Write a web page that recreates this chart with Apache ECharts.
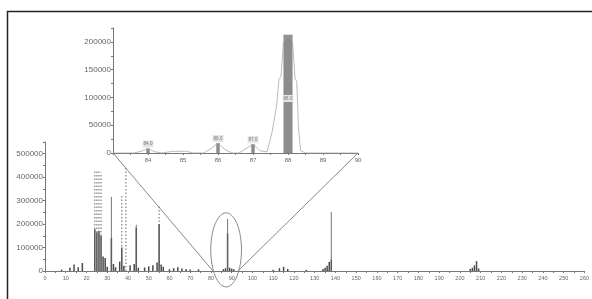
<!DOCTYPE html>
<html>
<head>
<meta charset="utf-8">
<script src="https://cdn.jsdelivr.net/npm/echarts@6/dist/echarts.min.js"></script>
<style>
html, body { margin: 0; padding: 0; background: #fff; }
#chart { width: 592px; height: 299px; }
</style>
</head>
<body>
<div id="chart"></div>
<script>
// main spectrum, dark centroid bars
const mainMz = [8, 12, 14, 16, 18, 24, 25, 26, 27, 28, 29, 30, 32, 33, 34, 36, 37, 38, 41, 43, 44, 45, 48, 50, 52, 54, 55, 56, 57, 60, 62, 64, 66, 68, 70, 74, 86, 87, 88, 89, 90, 91, 110, 113, 115, 117, 126, 134, 135, 136, 137, 138, 205, 206, 207, 208, 209];
const mainInt = [6000, 14000, 28000, 16000, 34000, 178000, 165000, 172000, 150000, 62000, 55000, 18000, 140000, 30000, 16000, 40000, 100000, 22000, 24000, 30000, 185000, 14000, 15000, 20000, 24000, 36000, 200000, 28000, 18000, 8000, 12000, 16000, 11000, 8000, 6000, 7000, 8000, 12000, 160000, 14000, 10000, 7000, 5000, 12000, 18000, 9000, 5000, 9000, 14000, 22000, 38000, 48000, 9000, 14000, 24000, 42000, 11000];
// tall thin sticks (solid)
const lineMz = [32, 44, 88, 138];
const lineInt = [316000, 197000, 222000, 252000];
// tall thin sticks (dotted look)
const dotMz = [24, 25, 26, 27, 37, 39, 55];
const dotInt = [430000, 432000, 425000, 420000, 322000, 440000, 275000];

// inset, profile trace 83-90
const profMz = [83, 83.6, 83.8, 84.0, 84.2, 84.4, 84.7, 85.1, 85.3, 85.6, 85.8, 86.0, 86.2, 86.4, 86.6, 86.8, 87.0, 87.2, 87.4, 87.54, 87.68, 87.74, 87.8, 87.87, 88.0, 88.13, 88.2, 88.25, 88.3, 88.36, 88.5, 90];
const profInt = [0, 0, 3000, 8000, 2000, 0, 3000, 3000, 0, 0, 8000, 18000, 6000, 0, 0, 8000, 16000, 4000, 2000, 36000, 87000, 132000, 138000, 200000, 213000, 200000, 135000, 128000, 45000, 4000, 0, 0];
// inset centroid bars
const insetMz = [84, 86, 87, 88];
const insetInt = [8000, 18000, 16000, 213000];
const insetHalf = [0.05, 0.05, 0.05, 0.13];
const insetTag = ['84.0', '86.0', '87.0', '88.0'];

const labelColor = '#666';
const axisColor = '#777';

function stick(color, width, dash) {
  return function (params, api) {
    const p0 = api.coord([api.value(0), 0]);
    const p1 = api.coord([api.value(0), api.value(1)]);
    return {
      type: 'line',
      shape: { x1: p0[0], y1: p0[1], x2: p1[0], y2: p1[1] },
      style: { stroke: color, lineWidth: width, lineDash: dash }
    };
  };
}

function bar(color, halfPx) {
  return function (params, api) {
    const p0 = api.coord([api.value(0), 0]);
    const p1 = api.coord([api.value(0), api.value(1)]);
    return {
      type: 'rect',
      shape: { x: p0[0] - halfPx, y: p1[1], width: halfPx * 2, height: p0[1] - p1[1] },
      style: { fill: color }
    };
  };
}

function insetBar(params, api) {
  const mz = api.value(0), v = api.value(1), h = api.value(2);
  const a = api.coord([mz - h, 0]);
  const b = api.coord([mz + h, v]);
  const i = params.dataIndex;
  const big = i === 3;
  const t = big ? api.coord([mz, 90000]) : api.coord([mz, v]);
  return {
    type: 'group',
    children: [
      { type: 'rect', shape: { x: a[0], y: b[1], width: b[0] - a[0], height: a[1] - b[1] }, style: { fill: '#8c8c8c' } },
      { type: 'text', x: t[0], y: t[1] - 1,
        style: { text: insetTag[i], fontSize: 4.5, fill: '#777', align: 'center', verticalAlign: 'bottom',
                 backgroundColor: '#e4e4e4', padding: [1, 1] } }
    ]
  };
}

const axisCommon = {
  axisLine: { show: true, lineStyle: { color: axisColor, width: 1 } },
  axisTick: { show: true, length: 2, lineStyle: { color: axisColor } },
  splitLine: { show: false },
};

const option = {
  animation: false,
  grid: [
    { left: 45, top: 142, width: 545, height: 129 },
    { left: 113, top: 28, width: 245, height: 125 }
  ],
  xAxis: [
    Object.assign({}, axisCommon, {
      gridIndex: 0, type: 'value', min: 0, max: 260, interval: 10,
      minorTick: { show: true, splitNumber: 2, length: 2, lineStyle: { color: axisColor } },
      axisLabel: { fontSize: 5.5, color: labelColor, margin: 4, fontFamily: 'Liberation Sans' }
    }),
    Object.assign({}, axisCommon, {
      gridIndex: 1, type: 'value', min: 83, max: 90, interval: 1,
      minorTick: { show: true, splitNumber: 2, length: 2, lineStyle: { color: axisColor } },
      axisLabel: { fontSize: 6, color: labelColor, margin: 4, showMinLabel: false, fontFamily: 'Liberation Sans' }
    })
  ],
  yAxis: [
    Object.assign({}, axisCommon, {
      gridIndex: 0, type: 'value', min: 0, max: 550000, interval: 50000,
      axisLabel: { fontSize: 8, color: labelColor, margin: 2, fontFamily: 'Liberation Sans',
        formatter: v => (v % 100000 === 0 ? String(v) : '') }
    }),
    Object.assign({}, axisCommon, {
      gridIndex: 1, type: 'value', min: 0, max: 225000, interval: 25000,
      axisLabel: { fontSize: 8, color: labelColor, margin: 2, fontFamily: 'Liberation Sans',
        formatter: v => (v % 50000 === 0 ? String(v) : '') }
    })
  ],
  series: [
    { type: 'custom', xAxisIndex: 0, yAxisIndex: 0, renderItem: bar('#4a4a4a', 0.75),
      data: mainMz.map((m, i) => [m, mainInt[i]]) },
    { type: 'custom', xAxisIndex: 0, yAxisIndex: 0, renderItem: stick('#666', 0.9, null),
      data: lineMz.map((m, i) => [m, lineInt[i]]) },
    { type: 'custom', xAxisIndex: 0, yAxisIndex: 0, renderItem: stick('#777', 1.1, [1.5, 2]),
      data: dotMz.map((m, i) => [m, dotInt[i]]) },
    { type: 'line', xAxisIndex: 1, yAxisIndex: 1, showSymbol: false, symbol: 'none',
      lineStyle: { color: '#aaa', width: 0.8 },
      data: profMz.map((m, i) => [m, profInt[i]]) },
    { type: 'custom', xAxisIndex: 1, yAxisIndex: 1, renderItem: insetBar,
      data: insetMz.map((m, i) => [m, insetInt[i], insetHalf[i]]) }
  ]
};

const chart = echarts.init(document.getElementById('chart'));
chart.setOption(option);

// zoom guide: lines from the inset's axis ends down to the main axis, ellipse round the m/z 88 region
const iL = chart.convertToPixel({ gridIndex: 1 }, [83, 0]);
const iR = chart.convertToPixel({ gridIndex: 1 }, [90, 0]);
const mL = chart.convertToPixel({ gridIndex: 0 }, [81, 0]);
const mR = chart.convertToPixel({ gridIndex: 0 }, [93, 0]);
const eC = chart.convertToPixel({ gridIndex: 0 }, [87.3, 90000]);
const eT = chart.convertToPixel({ gridIndex: 0 }, [94.7, 248000]);

chart.setOption({
  graphic: [
    { type: 'rect', shape: { x: 7.5, y: 11.5, width: 700, height: 400 },
      style: { fill: 'none', stroke: '#222', lineWidth: 1.5 }, silent: true },
    { type: 'line', shape: { x1: iL[0], y1: iL[1], x2: mL[0], y2: mL[1] },
      style: { stroke: '#888', lineWidth: 1 }, silent: true },
    { type: 'line', shape: { x1: iR[0], y1: iR[1], x2: mR[0], y2: mR[1] },
      style: { stroke: '#888', lineWidth: 1 }, silent: true },
    { type: 'ellipse', shape: { cx: eC[0], cy: eC[1], rx: eT[0] - eC[0], ry: eC[1] - eT[1] },
      style: { fill: 'none', stroke: '#888', lineWidth: 1 }, silent: true }
  ]
});
</script>
</body>
</html>
